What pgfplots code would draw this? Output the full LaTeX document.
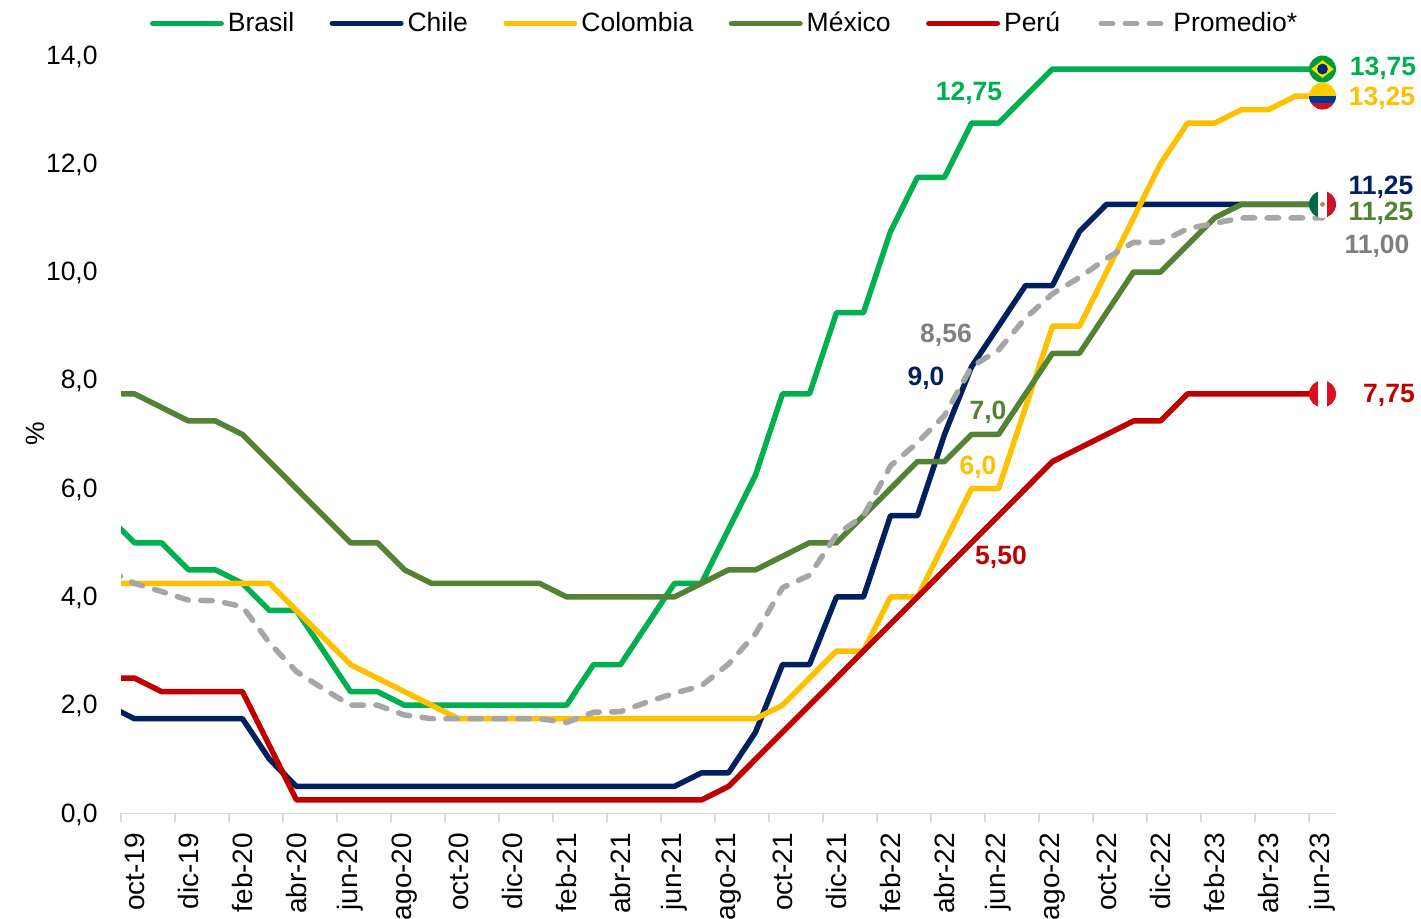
\documentclass[border=0pt]{standalone}
\usepackage{fontspec}
\setmainfont{Liberation Sans}
\usepackage{pgfplots}
\usepackage{pgfplotstable}
\pgfplotsset{compat=1.18}

\definecolor{cbrasil}{HTML}{00B050}
\definecolor{cchile}{HTML}{002060}
\definecolor{ccolombia}{HTML}{FFC000}
\definecolor{cmexico}{HTML}{548235}
\definecolor{cperu}{HTML}{C00000}
\definecolor{cprom}{HTML}{A6A6A6}
\definecolor{cpromtxt}{HTML}{7F7F7F}
\definecolor{caxis}{HTML}{D9D9D9}
\definecolor{flaggreen}{HTML}{009C3B}
\definecolor{flagyellow}{HTML}{FFDF00}
\definecolor{flagblue}{HTML}{002776}
\definecolor{coyellow}{HTML}{FFCD00}
\definecolor{coblue}{HTML}{003893}
\definecolor{flagred}{HTML}{CE1126}
\definecolor{mxgreen}{HTML}{006847}
\definecolor{pered}{HTML}{D91023}

\newcommand\chartfont{\fontsize{13.25}{15}\selectfont}
% label placed by reference pixel (1px = 0.5pt)
\newcommand\lbl[4]{\node[text=#1, font=\chartfont\bfseries, inner sep=0pt, anchor=center]
  at ({#2*0.5pt},{(917-#3)*0.5pt}) {#4};}

% flags at the end of the lines
\def\flagr{6.75pt}
\newcommand\flagclip{\pgfpathcircle{\pgfpointorigin}{\flagr}\pgfusepath{clip}}
\newcommand\flagrect[5]{\pgfsetfillcolor{#1}\pgfpathrectanglecorners{\pgfpoint{#2}{#3}}{\pgfpoint{#4}{#5}}\pgfusepath{fill}}
\pgfdeclareplotmark{flagbr}{%
  \pgfsetfillcolor{flaggreen}\pgfpathcircle{\pgfpointorigin}{\flagr}\pgfusepath{fill}
  \pgfsetfillcolor{flagyellow}
  \pgfpathmoveto{\pgfpoint{-5.6pt}{0pt}}\pgfpathlineto{\pgfpoint{0pt}{4.4pt}}
  \pgfpathlineto{\pgfpoint{5.6pt}{0pt}}\pgfpathlineto{\pgfpoint{0pt}{-4.4pt}}\pgfpathclose\pgfusepath{fill}
  \pgfsetfillcolor{flagblue}\pgfpathcircle{\pgfpointorigin}{2.7pt}\pgfusepath{fill}}
\pgfdeclareplotmark{flagco}{%
  \flagclip
  \flagrect{coyellow}{-7pt}{0pt}{7pt}{7pt}
  \flagrect{coblue}{-7pt}{-3.5pt}{7pt}{0pt}
  \flagrect{flagred}{-7pt}{-7pt}{7pt}{-3.5pt}}
\pgfdeclareplotmark{flagmx}{%
  \flagclip
  \flagrect{mxgreen}{-7pt}{-7pt}{-2.2pt}{7pt}
  \flagrect{white}{-2.2pt}{-7pt}{2.2pt}{7pt}
  \flagrect{flagred}{2.2pt}{-7pt}{7pt}{7pt}
  \pgfsetfillcolor{brown}\pgfpathcircle{\pgfpointorigin}{1.2pt}\pgfusepath{fill}}
\pgfdeclareplotmark{flagpe}{%
  \flagclip
  \flagrect{pered}{-7pt}{-7pt}{-2.2pt}{7pt}
  \flagrect{white}{-2.2pt}{-7pt}{2.2pt}{7pt}
  \flagrect{pered}{2.2pt}{-7pt}{7pt}{7pt}}

% idx 0 = oct-19, idx -1 = sep-19 (only its last stretch shows at the left edge)
\pgfplotstableread{
idx brasil chile colombia mexico peru prom
-1 5.50 2.00 4.25 7.75 2.50 4.50
0 5.00 1.75 4.25 7.75 2.50 4.25
1 5.00 1.75 4.25 7.50 2.25 4.10
2 4.50 1.75 4.25 7.25 2.25 3.94
3 4.50 1.75 4.25 7.25 2.25 3.93
4 4.25 1.75 4.25 7.00 2.25 3.82
5 3.75 1.00 4.25 6.50 1.25 3.15
6 3.75 0.50 3.75 6.00 0.25 2.62
7 3.00 0.50 3.25 5.50 0.25 2.30
8 2.25 0.50 2.75 5.00 0.25 2.00
9 2.25 0.50 2.50 5.00 0.25 2.00
10 2.00 0.50 2.25 4.50 0.25 1.82
11 2.00 0.50 2.00 4.25 0.25 1.75
12 2.00 0.50 1.75 4.25 0.25 1.75
13 2.00 0.50 1.75 4.25 0.25 1.75
14 2.00 0.50 1.75 4.25 0.25 1.75
15 2.00 0.50 1.75 4.25 0.25 1.75
16 2.00 0.50 1.75 4.00 0.25 1.68
17 2.75 0.50 1.75 4.00 0.25 1.87
18 2.75 0.50 1.75 4.00 0.25 1.88
19 3.50 0.50 1.75 4.00 0.25 2.06
20 4.25 0.50 1.75 4.00 0.25 2.22
21 4.25 0.75 1.75 4.25 0.25 2.36
22 5.25 0.75 1.75 4.50 0.50 2.76
23 6.25 1.50 1.75 4.50 1.00 3.32
24 7.75 2.75 2.00 4.75 1.50 4.17
25 7.75 2.75 2.50 5.00 2.00 4.40
26 9.25 4.00 3.00 5.00 2.50 5.15
27 9.25 4.00 3.00 5.50 3.00 5.50
28 10.75 5.50 4.00 6.00 3.50 6.42
29 11.75 5.50 4.00 6.50 4.00 6.85
30 11.75 7.00 5.00 6.50 4.50 7.35
31 12.75 8.25 6.00 7.00 5.00 8.25
32 12.75 9.00 6.00 7.00 5.50 8.56
33 13.25 9.75 7.50 7.75 6.00 9.15
34 13.75 9.75 9.00 8.50 6.50 9.60
35 13.75 10.75 9.00 8.50 6.75 9.90
36 13.75 11.25 10.00 9.25 7.00 10.25
37 13.75 11.25 11.00 10.00 7.25 10.55
38 13.75 11.25 12.00 10.00 7.25 10.55
39 13.75 11.25 12.75 10.50 7.75 10.80
40 13.75 11.25 12.75 11.00 7.75 10.90
41 13.75 11.25 13.00 11.25 7.75 11.00
42 13.75 11.25 13.00 11.25 7.75 11.00
43 13.75 11.25 13.25 11.25 7.75 11.00
44 13.75 11.25 13.25 11.25 7.75 11.00
}\tasas

\begin{document}
\begin{tikzpicture}
\path[clip, use as bounding box] (0,0) rectangle (710.5pt,459.5pt);
\begin{axis}[
    at={(60.5pt,52.75pt)}, anchor=south west,
    scale only axis,
    width=607.5pt, height=379pt,
    xmin=-0.5, xmax=44.5, ymin=0, ymax=14,
    axis x line=bottom, axis y line=left,
    x axis line style={-, draw=caxis, line width=0.8pt},
    y axis line style={draw=none},
    xtick={0,2,...,44},
    xticklabels={oct-19,dic-19,feb-20,abr-20,jun-20,ago-20,oct-20,dic-20,feb-21,abr-21,jun-21,ago-21,oct-21,dic-21,feb-22,abr-22,jun-22,ago-22,oct-22,dic-22,feb-23,abr-23,jun-23},
    minor xtick={-0.5,1.5,...,43.5},
    major tick length=0pt,
    minor tick length=4.5pt,
    tick align=outside,
    minor tick style={draw=caxis, line width=0.8pt},
    xticklabel style={rotate=90, anchor=east, inner sep=0pt, xshift=-9.5pt, font=\fontsize{14}{16}\selectfont},
    ytick={0,2,...,14},
    yticklabels={{0,0},{2,0},{4,0},{6,0},{8,0},{10,0},{12,0},{14,0}},
    yticklabel style={anchor=east, inner sep=0pt, xshift=-11.5pt, yshift=-0.5pt, font=\chartfont},
    every axis plot/.append style={line width=2.75pt, line join=round, line cap=round},
    legend image code/.code={\draw[#1] (0pt,0pt) -- (34.25pt,0pt);},
    legend columns=6,
    legend cell align=left,
    legend style={draw=none, fill=none, inner sep=0pt, font=\chartfont,
        at={(rel axis cs:0.0235,1.0422)}, anchor=west,
        /tikz/every even column/.append style={column sep=15.7pt}},
]
\addplot[cbrasil] table[x=idx, y=brasil] {\tasas};
\addlegendentry{Brasil}
\addplot[cchile] table[x=idx, y=chile] {\tasas};
\addlegendentry{Chile}
\addplot[ccolombia] table[x=idx, y=colombia] {\tasas};
\addlegendentry{Colombia}
\addplot[cmexico] table[x=idx, y=mexico] {\tasas};
\addlegendentry{México}
\addplot[cperu] table[x=idx, y=peru] {\tasas};
\addlegendentry{Perú}
\addplot[only marks, mark=flagbr, forget plot] coordinates {(44,13.75)};
\addplot[only marks, mark=flagco, forget plot] coordinates {(44,13.25)};
\addplot[only marks, mark=flagmx, forget plot] coordinates {(44,11.25)};
\addplot[only marks, mark=flagpe, forget plot] coordinates {(44,7.75)};
\addplot[cprom, dash pattern=on 5.75pt off 6.25pt, dash phase=10.5pt] table[x=idx, y=prom] {\tasas};
\addlegendentry{Promedio*}
\end{axis}
\node[rotate=90, font=\chartfont, inner sep=0pt] at (17.5pt,{(919-434)*0.5pt}) {\%};
\lbl{cbrasil}{969}{91}{12,75}
\lbl{cbrasil}{1383}{66}{13,75}
\lbl{ccolombia}{1382}{96}{13,25}
\lbl{cchile}{1381}{185}{11,25}
\lbl{cmexico}{1381}{211}{11,25}
\lbl{cpromtxt}{1377}{244}{11,00}
\lbl{cpromtxt}{946}{333}{8,56}
\lbl{cchile}{926}{376}{9,0}
\lbl{cmexico}{988}{410}{7,0}
\lbl{ccolombia}{978}{465}{6,0}
\lbl{cperu}{1001}{555}{5,50}
\lbl{cperu}{1389}{393}{7,75}
\end{tikzpicture}
\end{document}
